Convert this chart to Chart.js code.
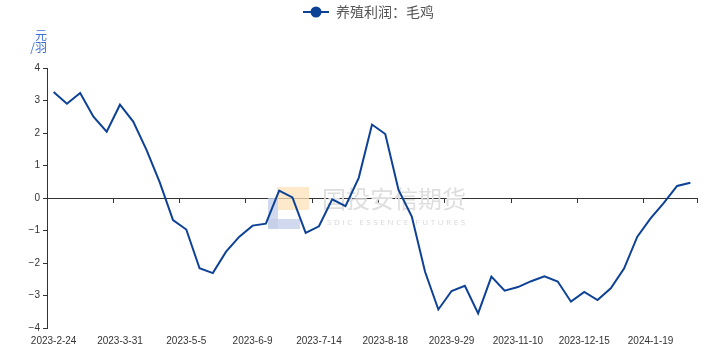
<!DOCTYPE html>
<html>
<head>
<meta charset="utf-8">
<script src="https://cdn.jsdelivr.net/npm/chart.js@4.4.1/dist/chart.umd.min.js"></script>
<style>
html,body{margin:0;padding:0;background:#fff;}
#wrap{position:relative;width:723px;height:355px;}
</style>
</head>
<body>
<div id="wrap"><canvas id="c" width="723" height="355"></canvas></div>
<script>
const dates = ["2023-2-24","2023-3-3","2023-3-10","2023-3-17","2023-3-24","2023-3-31","2023-4-7","2023-4-14","2023-4-21","2023-4-28",
"2023-5-5","2023-5-12","2023-5-19","2023-5-26","2023-6-2","2023-6-9","2023-6-16","2023-6-23","2023-6-30","2023-7-7",
"2023-7-14","2023-7-21","2023-7-28","2023-8-4","2023-8-11","2023-8-18","2023-8-25","2023-9-1","2023-9-8","2023-9-15",
"2023-9-29","2023-10-13","2023-10-20","2023-10-27","2023-11-3","2023-11-10","2023-11-17","2023-11-24","2023-12-1","2023-12-8",
"2023-12-15","2023-12-22","2023-12-29","2024-1-5","2024-1-12","2024-1-19","2024-1-26","2024-2-2","2024-2-9"];
const profit = [3.26,2.90,3.23,2.50,2.04,2.87,2.35,1.48,0.48,-0.68,
-0.97,-2.16,-2.31,-1.65,-1.19,-0.85,-0.79,0.23,0.02,-1.07,
-0.87,-0.04,-0.25,0.62,2.26,1.97,0.25,-0.57,-2.27,-3.43,
-2.86,-2.70,-3.55,-2.42,-2.85,-2.74,-2.56,-2.41,-2.57,-3.19,
-2.89,-3.14,-2.78,-2.17,-1.19,-0.63,-0.15,0.37,0.47];
const seriesName = "养殖利润：毛鸡";
const yTicks = [4,3,2,1,0,-1,-2,-3,-4];
const unitLines = ["元","/羽"];
const watermarkCn = "国投安信期货";
const watermarkEn = "SDIC ESSENCE FUTURES";

const LINE = '#0d4196';
const AXIS = '#333333';

// legend marker: line with a circle
const marker = document.createElement('canvas');
marker.width = 26; marker.height = 12;
(function(){
  const m = marker.getContext('2d');
  m.strokeStyle = LINE; m.lineWidth = 2;
  m.beginPath(); m.moveTo(0,6); m.lineTo(26,6); m.stroke();
  m.fillStyle = LINE;
  m.beginPath(); m.arc(13,6,5.5,0,Math.PI*2); m.fill();
})();

const decor = {
  id: 'decor',
  afterLayout(chart){
    const lg = chart.legend;
    if (lg) {
      const h = lg.height;
      lg.top = 0; lg.bottom = h;
      lg.left += 20; lg.right += 20;
    }
  },
  beforeDatasetsDraw(chart){
    const ctx = chart.ctx;
    ctx.save();
    // watermark logo
    ctx.fillStyle = 'rgba(253,226,186,0.75)';
    ctx.fillRect(277,187,32,23);
    ctx.fillStyle = 'rgba(196,207,232,0.8)';
    ctx.fillRect(268,198,10,31);
    ctx.fillRect(268,219,32,10);
    ctx.fillStyle = '#dedede';
    ctx.font = '24px "Noto Sans CJK SC"';
    ctx.textBaseline = 'middle';
    ctx.textAlign = 'left';
    ctx.fillText(watermarkCn, 322, 199);
    ctx.font = '8px "Open Sans"';
    ctx.fillStyle = '#d8d8d8';
    if ('letterSpacing' in ctx) ctx.letterSpacing = '2.6px';
    ctx.fillText(watermarkEn, 327, 223);
    ctx.restore();
  },
  afterDraw(chart){
    const ctx = chart.ctx;
    ctx.save();
    ctx.fillStyle = '#3d6fd8';
    ctx.font = '12px "Noto Sans CJK SC"';
    ctx.textAlign = 'right';
    ctx.textBaseline = 'alphabetic';
    ctx.fillText(unitLines[0], 47, 40);
    ctx.fillText(unitLines[1], 47, 52);
    ctx.restore();
  }
};

new Chart(document.getElementById('c'), {
  type: 'line',
  data: {
    labels: dates,
    datasets: [{
      label: seriesName,
      data: profit,
      borderColor: LINE,
      backgroundColor: LINE,
      borderWidth: 2,
      pointRadius: 0,
      pointHoverRadius: 0,
      pointStyle: marker,
      tension: 0,
      xAxisID: 'x',
      yAxisID: 'y'
    }]
  },
  options: {
    responsive: false,
    animation: false,
    devicePixelRatio: 1,
    layout: { padding: { left: 0, right: 26, top: 0, bottom: 0 } },
    plugins: {
      tooltip: { enabled: false },
      legend: {
        display: true,
        position: 'top',
        labels: {
          usePointStyle: true,
          pointStyleWidth: 26,
          boxHeight: 12,
          padding: 5,
          color: '#555555',
          font: { family: '"Noto Sans CJK SC"', size: 14 },
          generateLabels(chart){
            return [{ text: seriesName, pointStyle: marker, fillStyle: LINE, strokeStyle: LINE, lineWidth: 0, hidden: false, datasetIndex: 0, fontColor: '#555555' }];
          }
        }
      }
    },
    scales: {
      x: {
        type: 'category',
        position: 'bottom',
        offset: true,
        border: { display: false },
        grid: { display: false, drawTicks: false, tickLength: 0 },
        ticks: {
          autoSkip: false, maxRotation: 0, minRotation: 0, padding: 7,
          color: AXIS,
          font: { family: '"Liberation Sans"', size: 10 },
          callback(v, i){ return i % 5 === 0 ? dates[i] : ''; }
        },
        afterFit(s){ s.height = 27; }
      },
      x2: {
        type: 'category',
        position: { y: 0 },
        offset: true,
        border: { display: true, color: AXIS, width: 1 },
        grid: {
          display: true, drawOnChartArea: false, drawTicks: true, tickLength: 4, offset: true,
          color(c){ return (c.type !== 'tick' || c.index % 5 === 0) ? AXIS : 'rgba(0,0,0,0)'; }
        },
        ticks: { display: false, autoSkip: false }
      },
      y: {
        type: 'linear',
        position: 'left',
        min: -4, max: 4,
        border: { display: true, color: AXIS, width: 1 },
        grid: { display: true, drawOnChartArea: false, drawTicks: true, tickLength: 4, color: AXIS },
        ticks: {
          stepSize: 1, padding: 3, color: AXIS,
          font: { family: '"Liberation Sans"', size: 10 },
          callback(v){ return yTicks.includes(v) ? (v < 0 ? '\u2212' + Math.abs(v) : String(v)) : ''; }
        },
        afterFit(s){ s.width = 47; s.paddingTop = 68; }
      }
    }
  },
  plugins: [decor]
});
</script>
</body>
</html>
